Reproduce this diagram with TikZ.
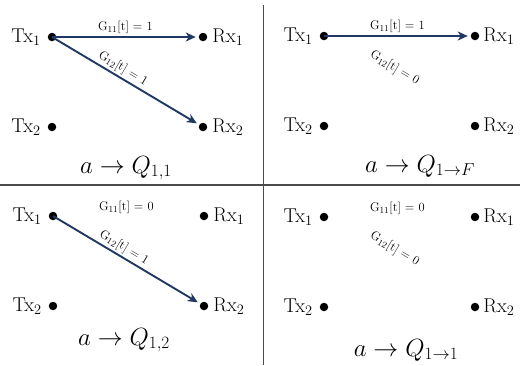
\documentclass[tikz,border=0pt]{standalone}
\usetikzlibrary{arrows.meta}
\definecolor{navy}{RGB}{31,56,100}
\definecolor{sepgray}{RGB}{75,75,75}
\tikzset{
  dotnode/.style={circle,fill=black,inner sep=0pt,minimum size=8.5pt,outer sep=0pt},
  txlab/.style={font=\fontsize{20}{22}\selectfont,inner sep=1pt},
  glab/.style={font=\fontsize{12.5}{14}\selectfont,inner sep=2pt},
  qlab/.style={font=\fontsize{25}{29}\selectfont,anchor=base},
  link/.style={draw=navy,line width=1.9pt,-{Stealth[length=10pt,width=9pt,inset=3pt]},shorten >=3pt},
  sep/.style={draw=sepgray,line width=1.8pt}
}
\newcommand\mypanel[4]{%
  \begin{scope}[shift={(#2,#3)}]
    \node[dotnode,label={[txlab,label distance=6pt]left:Tx$_1$}] (#1tx1) at (0,0) {};
    \node[dotnode,label={[txlab,label distance=#4]right:Rx$_1$}] (#1rx1) at (151,0) {};
    \node[dotnode,label={[txlab,label distance=6pt]left:Tx$_2$}] (#1tx2) at (0,90) {};
    \node[dotnode,label={[txlab,label distance=#4]right:Rx$_2$}] (#1rx2) at (151,90) {};
  \end{scope}}
\begin{document}
\begin{tikzpicture}[x=1pt,y=-1pt]
\useasboundingbox (0,0) rectangle (520,365);
% separators
\coordinate (hl) at (0,185);
\coordinate (hr) at (520,185);
\coordinate (vt) at (263.5,5);
\coordinate (vb) at (263.5,365);
\draw[sep] (hl) -- (hr);
\draw[sep] (vt) -- (vb);
% panels
\mypanel{a}{52}{37}{4pt}
\mypanel{b}{324}{36}{3pt}
\mypanel{c}{53}{216}{4pt}
\mypanel{d}{324}{217}{3pt}
% panel a
\draw[link] (atx1.center) -- node[glab,above,pos=0.5]{G$_{11}$[t] = 1} (arx1);
\draw[link] (atx1.center) -- node[glab,above,sloped,pos=0.45]{G$_{12}$[t] = 1} (arx2);
\node[qlab] (qa) at (126,173) {$a \to Q_{1,1}$};
% panel b
\draw[link] (btx1.center) -- node[glab,above,pos=0.5]{G$_{11}$[t] = 1} (brx1);
\path (btx1.center) -- node[glab,above,sloped,pos=0.45]{G$_{12}$[t] = 0} (brx2);
\node[qlab] (qb) at (420,172) {$a \to Q_{1\to F}$};
% panel c
\path (ctx1.center) -- node[glab,above,pos=0.5]{G$_{11}$[t] = 0} (crx1);
\draw[link] (ctx1.center) -- node[glab,above,sloped,pos=0.45]{G$_{12}$[t] = 1} (crx2);
\node[qlab] (qc) at (124,345) {$a \to Q_{1,2}$};
% panel d
\path (dtx1.center) -- node[glab,above,pos=0.5]{G$_{11}$[t] = 0} (drx1);
\path (dtx1.center) -- node[glab,above,sloped,pos=0.45]{G$_{12}$[t] = 0} (drx2);
\node[qlab] (qd) at (406,356) {$a \to Q_{1\to 1}$};
\end{tikzpicture}
\end{document}
